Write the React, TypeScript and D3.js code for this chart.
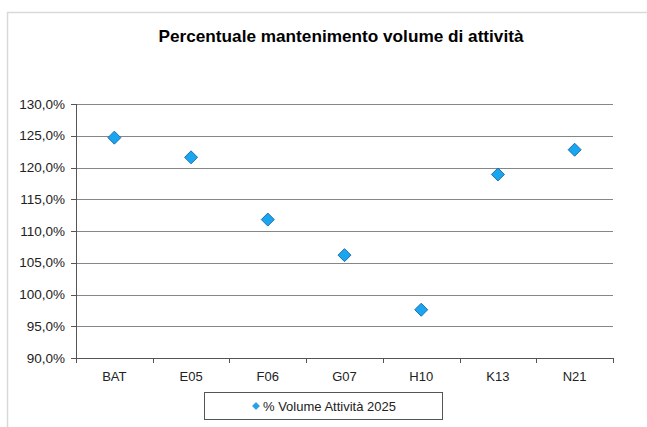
import React from "react";
import * as d3 from "d3";

const categories = ["BAT", "E05", "F06", "G07", "H10", "K13", "N21"];
const values = [124.7, 121.6, 111.8, 106.2, 97.6, 118.9, 122.8];
const yTicks = [90, 95, 100, 105, 110, 115, 120, 125, 130];
const title = "Percentuale mantenimento volume di attività";
const seriesName = "% Volume Attività 2025";

const W = 647, H = 427;
const left = 76, right = 613, top = 104, bottom = 358;
const font = "'Liberation Sans', Arial, sans-serif";

export default function App() {
  const x = d3.scaleBand().domain(categories).range([left, right]);
  const y = d3.scaleLinear().domain([90, 130]).range([bottom, top]);
  const fmt = (v: number) => v.toFixed(1).replace(".", ",") + "%";
  const diamond = (cx: number, cy: number, r: number) =>
    `M${cx},${cy - r}L${cx + r},${cy}L${cx},${cy + r}L${cx - r},${cy}Z`;
  const boundaries = d3.range(categories.length + 1).map((i) => left + i * x.bandwidth());
  return (
    <svg width={W} height={H} style={{ position: "absolute", left: 0, top: 0, background: "#fff" }}>
      <rect x={7.5} y={12.5} width={W} height={H} fill="#fff" stroke="#d9d9d9" strokeWidth={1.5} />
      <text x={341} y={42} textAnchor="middle" fontFamily={font} fontWeight="bold" fontSize={17} fill="#000" textLength={365} lengthAdjust="spacingAndGlyphs">
        {title}
      </text>
      {yTicks.map((t) => (
        <g key={t}>
          <line x1={left} x2={right} y1={Math.round(y(t)) + 0.5} y2={Math.round(y(t)) + 0.5} stroke="#868686" strokeWidth={1} />
          <line x1={left - 5} x2={left} y1={Math.round(y(t)) + 0.5} y2={Math.round(y(t)) + 0.5} stroke="#555" />
          <text x={left - 11} y={y(t)} dy="0.35em" textAnchor="end" fontFamily={font} fontSize={13.5} fill="#222">
            {fmt(t)}
          </text>
        </g>
      ))}
      <line x1={left + 0.5} x2={left + 0.5} y1={top} y2={bottom + 0.5} stroke="#555" />
      <line x1={left} x2={right} y1={bottom + 0.5} y2={bottom + 0.5} stroke="#555" />
      {boundaries.map((b, i) => (
        <line key={i} x1={Math.round(b) + 0.5} x2={Math.round(b) + 0.5} y1={bottom} y2={bottom + 5} stroke="#555" />
      ))}
      {categories.map((c) => (
        <text key={c} x={(x(c) as number) + x.bandwidth() / 2} y={381} textAnchor="middle" fontFamily={font} fontSize={13} fill="#222">
          {c}
        </text>
      ))}
      {categories.map((c, i) => (
        <path
          key={c}
          d={diamond((x(c) as number) + x.bandwidth() / 2, y(values[i]), 6.5)}
          fill="#1aa6ef"
          stroke="#1f6fb8"
          strokeWidth={1}
        />
      ))}
      <rect x={204.5} y={392.5} width={238} height={27} fill="#fff" stroke="#555" strokeWidth={1} />
      <path d={diamond(256, 406, 3.5)} fill="#1aa6ef" stroke="#1f6fb8" strokeWidth={0.5} />
      <text x={263} y={406} dy="0.35em" fontFamily={font} fontSize={13} fill="#222">
        {seriesName}
      </text>
    </svg>
  );
}
